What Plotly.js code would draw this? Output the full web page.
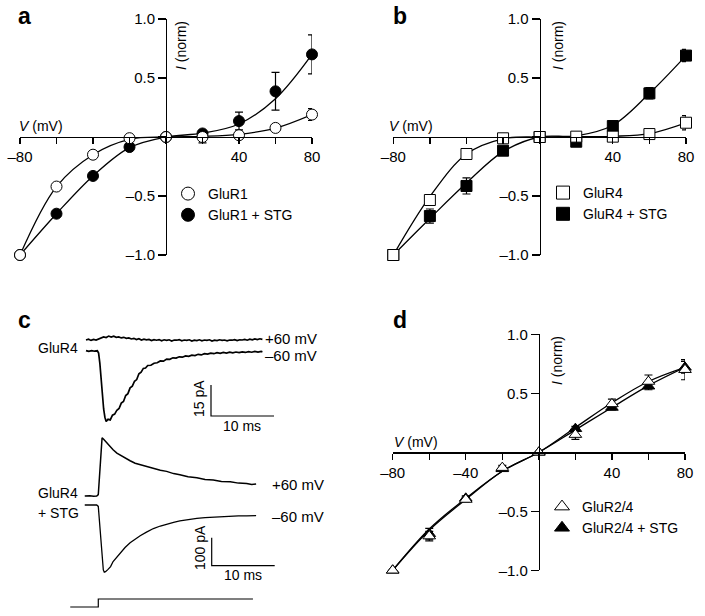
<!DOCTYPE html>
<html><head><meta charset="utf-8">
<script src="https://cdn.plot.ly/plotly-3.0.1.min.js"></script>
<style>html,body{margin:0;padding:0;background:#fff}#chart{width:705px;height:616px}</style>
</head><body><div id="chart"></div>
<script>
// ---------- data ----------
const voltages = [-80, -60, -40, -20, 0, 20, 40, 60, 80];
const xTickText = ['–80', '', '', '', '', '', '40', '', '80'];
const xTickTextD = ['–80', '', '–40', '', '', '', '40', '', '80'];
const yTickVals = [-1, -0.5, 0, 0.5, 1];
const yTickText = ['–1.0', '–0.5', '', '0.5', '1.0'];

// panel a
const gluR1 = [-1.0, -0.42, -0.15, -0.01, 0, 0.0, 0.015, 0.077, 0.19];
const gluR1Err = [0, 0.02, 0.02, 0.01, 0, 0.05, 0.03, 0.02, 0.05];
const gluR1Stg = [-1.0, -0.65, -0.33, -0.085, 0, 0.03, 0.135, 0.387, 0.70];
const gluR1StgErr = [0, 0.02, 0.02, 0.015, 0, 0.015, 0.075, 0.16, 0.165];
const gluR1Fit = [-1, -0.42, -0.15, -0.02, 0, 0.005, 0.022, 0.075, 0.19];
const gluR1StgFit = [-1, -0.65, -0.33, -0.09, 0, 0.032, 0.11, 0.325, 0.70];

// panel b
const gluR4 = [-1.0, -0.534, -0.144, -0.011, 0, 0.003, 0.003, 0.025, 0.121];
const gluR4Err = [0, 0.035, 0.02, 0.01, 0, 0.01, 0.01, 0.015, 0.06];
const gluR4Stg = [-1.0, -0.67, -0.415, -0.116, 0, -0.04, 0.093, 0.37, 0.69];
const gluR4StgErr = [0, 0.06, 0.068, 0.015, 0, 0.02, 0.02, 0.048, 0.052];
const gluR4Fit = [-1, -0.505, -0.144, -0.015, 0, 0.002, 0.006, 0.028, 0.12];
const gluR4StgFit = [-1, -0.69, -0.39, -0.124, 0, 0.01, 0.10, 0.37, 0.69];

// panel d
const gluR24 = [-1.0, -0.71, -0.40, -0.13, 0, 0.15, 0.41, 0.60, 0.70];
const gluR24Err = [0, 0.04, 0.02, 0.02, 0, 0.04, 0.04, 0.055, 0.085];
const gluR24Stg = [-1.0, -0.69, -0.39, -0.14, 0, 0.20, 0.38, 0.56, 0.72];
const gluR24StgErr = [0, 0.045, 0.02, 0.015, 0, 0.02, 0.02, 0.03, 0.05];
const gluR24Fit = [-1, -0.66, -0.40, -0.16, 0, 0.19, 0.38, 0.565, 0.72];
const gluR24StgFit = [-1, -0.65, -0.39, -0.16, 0, 0.21, 0.42, 0.60, 0.72];

// panel c: GluR4 currents (pA) vs time (ms)
const tGluR4Pos = [0, 0.4, 0.8, 1.2, 1.6, 2.0, 2.4, 2.8, 3.2, 3.6, 4.0, 4.4, 4.8, 5.2, 5.6, 6.0, 6.4, 6.8, 7.2, 7.6, 8.0, 8.4, 8.8, 9.2, 9.6, 10.0, 10.4, 10.8, 11.2, 11.6, 12.0, 12.4, 12.8, 13.2, 13.6, 14.0, 14.4, 14.8, 15.2, 15.6, 16.0, 16.4, 16.8, 17.2, 17.6, 18.0, 18.4, 18.8, 19.2, 19.6, 20.0, 20.4, 20.8, 21.2, 21.6, 22.0, 22.4, 22.8, 23.2, 23.6, 24.0, 24.4, 24.8, 25.2, 25.6, 26.0, 26.4, 26.8, 27.2, 27.6, 28.0];
const iGluR4Pos = [0.0, 0.4, -0.2, 0.3, 0.0, 0.5, 0.9, 1.5, 1.2, 1.9, 1.4, 1.8, 1.3, 1.5, 1.0, 1.3, 0.8, 1.0, 0.5, 0.8, 0.2, 0.6, 0.0, 0.4, 0.1, 0.3, -0.3, 0.2, -0.1, 0.2, -0.4, 0.1, -0.2, 0.1, -0.5, 0.0, -0.1, 0.2, -0.4, 0.0, -0.2, 0.1, -0.5, -0.1, -0.3, 0.1, -0.4, 0.0, -0.2, 0.1, -0.5, -0.1, -0.3, 0.1, -0.2, 0.0, -0.4, 0.0, -0.1, 0.2, -0.3, 0.1, 0.0, 0.3, -0.1, 0.4, 0.1, 0.5, 0.2, 0.6, 0.3];
const tGluR4Neg = [0, 0.45, 0.9, 1.35, 1.8, 2.0, 2.2, 2.4, 2.6, 2.8, 3.0, 3.2, 3.5, 3.85, 4.2, 4.55, 4.9, 5.25, 5.6, 5.95, 6.3, 6.65, 7.0, 7.35, 7.7, 8.05, 8.4, 8.75, 9.1, 9.45, 9.8, 10.3, 10.8, 11.3, 11.8, 12.3, 12.8, 13.3, 13.8, 14.3, 14.8, 15.3, 15.8, 16.3, 16.8, 17.3, 17.8, 18.3, 18.8, 19.3, 19.8, 20.3, 20.8, 21.3, 21.8, 22.3, 22.8, 23.3, 23.8, 24.3, 24.8, 25.3, 25.8, 26.3, 26.8, 27.3, 27.8, 28.0];
const iGluR4Neg = [0.2, -0.2, 0.2, -0.1, 0.1, -1, -6, -14, -22, -28, -32, -34, -33, -33.3, -31, -30.5, -28.6, -27.8, -25.2, -24.4, -21.5, -20.6, -17.8, -17.0, -14.6, -13.8, -11.0, -10.2, -8.4, -8.2, -7.0, -6.9, -5.9, -5.7, -4.8, -4.9, -3.9, -4.0, -3.3, -3.4, -2.8, -3.0, -2.4, -2.6, -2.0, -2.2, -1.6, -1.9, -1.3, -1.5, -1.0, -1.3, -0.8, -1.1, -0.7, -1.0, -0.6, -0.9, -0.5, -0.8, -0.4, -0.7, -0.3, -0.6, -0.2, -0.5, -0.2, -0.4];
// panel c: GluR4 + STG currents (pA)
const tStgPos = [-0.2, 0.6, 1.2, 1.7, 1.95, 2.1, 2.25, 2.4, 2.55, 2.8, 3.3, 3.8, 4.3, 4.9, 5.4, 6.2, 7.0, 7.8, 8.6, 9.6, 10.7, 11.8, 12.8, 13.9, 14.9, 16.2, 17.6, 18.9, 20.2, 21.5, 22.9, 24.2, 25.5, 26.3, 27.0];
const iStgPos = [0, 1, -1, 0, 5, 60, 130, 185, 208, 203, 190, 178, 165, 153, 146, 136, 126, 117, 112, 104, 99, 92, 88, 80, 76, 69, 65, 59, 57, 52, 51, 46, 45, 41, 43];
const tStgNeg = [-0.2, 0.6, 1.2, 1.7, 1.95, 2.15, 2.35, 2.55, 2.75, 2.9, 3.1, 3.5, 3.9, 4.3, 5.4, 6.2, 7.0, 7.8, 8.6, 9.6, 10.7, 11.8, 12.8, 13.9, 14.9, 16.2, 17.6, 18.9, 20.2, 21.5, 22.9, 24.2, 25.5, 27.0];
const iStgNeg = [0, 0, 0, 0, -5, -60, -130, -195, -232, -240, -238, -230, -220, -202, -172, -152, -135, -121, -110, -97, -84, -75, -68, -62, -57, -52, -47.5, -45, -43, -41.5, -40, -39, -38.5, -38];
// voltage command step
const tCommand = [-2.5, 1.95, 1.95, 26.5];
const vCommand = [0, 0, 1, 1];
// scale bars
const scaleMs = 10, scalePA1 = 15, scalePA2 = 100;

// ---------- layout helpers ----------
const W = 705, H = 616;
const fx = p => p / W, fy = p => 1 - p / H;
const FONT = 'Liberation Sans, Arial, sans-serif';
const BLACK = '#000';

function ivAxes(x0, x1, yTop, yBot, tickText) {
  const xa = {domain: [fx(x0), fx(x1)], range: [-80, 80], anchor: 'free', position: fy((yTop + yBot) / 2),
    showline: true, linecolor: BLACK, linewidth: 1.3, ticks: 'outside', ticklen: 6, tickwidth: 1.3, tickcolor: BLACK,
    tickvals: voltages, ticktext: tickText, tickfont: {family: FONT, size: 15, color: BLACK},
    showgrid: false, zeroline: false, fixedrange: true};
  const ya = {domain: [fy(yBot), fy(yTop)], range: [-1, 1], anchor: 'free', position: fx((x0 + x1) / 2),
    showline: true, linecolor: BLACK, linewidth: 1.3, ticks: 'outside', ticklen: 8, tickwidth: 1.3, tickcolor: BLACK,
    tickvals: yTickVals, ticktext: yTickText, tickfont: {family: FONT, size: 15, color: BLACK},
    showgrid: false, zeroline: false, fixedrange: true};
  return [xa, ya];
}

function fitTrace(y, xa, ya) {
  return {x: voltages, y: y, xaxis: xa, yaxis: ya, mode: 'lines', cliponaxis: false,
    line: {shape: 'spline', smoothing: 1, color: BLACK, width: 1.3}, showlegend: false, hoverinfo: 'skip'};
}
function markerTrace(y, err, symbol, open, xa, ya) {
  return {x: voltages, y: y, xaxis: xa, yaxis: ya, mode: 'markers', cliponaxis: false, showlegend: false,
    error_y: {type: 'data', array: err, visible: true, color: BLACK, thickness: 1.2, width: 4},
    marker: {symbol: symbol, size: 11, color: open ? '#fff' : BLACK, line: {color: BLACK, width: 1}}};
}
function legendTrace(name, symbol, open, xa, ya, leg, rank) {
  return {x: [null], y: [null], xaxis: xa, yaxis: ya, mode: 'markers', name: name, legend: leg, legendrank: rank,
    showlegend: true, marker: {symbol: symbol, size: 13, color: open ? '#fff' : BLACK, line: {color: BLACK, width: 1}}};
}

const traces = [
  // panel a
  fitTrace(gluR1StgFit, 'x', 'y'), fitTrace(gluR1Fit, 'x', 'y'),
  markerTrace(gluR1Stg, gluR1StgErr, 'circle', false, 'x', 'y'),
  markerTrace(gluR1, gluR1Err, 'circle', true, 'x', 'y'),
  legendTrace('GluR1', 'circle', true, 'x', 'y', 'legend', 1),
  legendTrace('GluR1 + STG', 'circle', false, 'x', 'y', 'legend', 2),
  // panel b
  fitTrace(gluR4StgFit, 'x2', 'y2'), fitTrace(gluR4Fit, 'x2', 'y2'),
  markerTrace(gluR4Stg, gluR4StgErr, 'square', false, 'x2', 'y2'),
  markerTrace(gluR4, gluR4Err, 'square', true, 'x2', 'y2'),
  legendTrace('GluR4', 'square', true, 'x2', 'y2', 'legend2', 1),
  legendTrace('GluR4 + STG', 'square', false, 'x2', 'y2', 'legend2', 2),
  // panel d
  fitTrace(gluR24StgFit, 'x3', 'y3'), fitTrace(gluR24Fit, 'x3', 'y3'),
  markerTrace(gluR24Stg, gluR24StgErr, 'triangle-up', false, 'x3', 'y3'),
  markerTrace(gluR24, gluR24Err, 'triangle-up', true, 'x3', 'y3'),
  legendTrace('GluR2/4', 'triangle-up', true, 'x3', 'y3', 'legend3', 1),
  legendTrace('GluR2/4 + STG', 'triangle-up', false, 'x3', 'y3', 'legend3', 2),
];

// panel c geometry (pixels): time origin, px per ms, baselines and px per pA
const cT0 = 86, cPxPerMs = 6.3;
const upBase = 351, upPxPerPA = 2.07, upPosBase = 340;
const loBase = 505, loPxPerPA = 0.28, loPosBase = 496;
const upOffset = (upBase - upPosBase) / upPxPerPA;
const loOffset = (loBase - loPosBase) / loPxPerPA;
function cLine(t, v, ya, off, w) {
  return {x: t, y: v.map(a => a + off), xaxis: 'x4', yaxis: ya, mode: 'lines', cliponaxis: false,
    line: {color: BLACK, width: w}, showlegend: false, hoverinfo: 'skip'};
}
traces.push(cLine(tGluR4Pos, iGluR4Pos, 'y4', upOffset, 1.7));
traces.push(cLine(tGluR4Neg, iGluR4Neg, 'y4', 0, 1.7));
traces.push(cLine(tStgPos, iStgPos, 'y5', loOffset, 1.5));
traces.push(cLine(tStgNeg, iStgNeg, 'y5', 0, 1.3));
traces.push(cLine(tCommand, vCommand, 'y6', 0, 1.2));
// scale bars
const sb1t = (211 - cT0) / cPxPerMs, sb1i = (upBase - 416) / upPxPerPA;
traces.push(cLine([sb1t, sb1t, sb1t + scaleMs], [sb1i + scalePA1, sb1i, sb1i], 'y4', 0, 1.2));
const sb2t = (211.7 - cT0) / cPxPerMs, sb2i = (loBase - 565.7) / loPxPerPA;
traces.push(cLine([sb2t, sb2t, sb2t + scaleMs], [sb2i + scalePA2, sb2i, sb2i], 'y5', 0, 1.2));

const [xa1, ya1] = ivAxes(20, 312, 19, 255, xTickText);
const [xa2, ya2] = ivAxes(393.3, 686, 19, 255, xTickText);
const [xa3, ya3] = ivAxes(392.7, 685, 334.3, 570.3, xTickTextD);

const cx0 = 67.1, cx1 = 325.4;
const xa4 = {domain: [fx(cx0), fx(cx1)], range: [(cx0 - cT0) / cPxPerMs, (cx1 - cT0) / cPxPerMs], visible: false, anchor: 'y4', fixedrange: true};
const ya4 = {domain: [fy(435), fy(325)], range: [(upBase - 435) / upPxPerPA, (upBase - 325) / upPxPerPA], visible: false, anchor: 'x4', fixedrange: true};
const ya5 = {domain: [fy(580), fy(430)], range: [(loBase - 580) / loPxPerPA, (loBase - 430) / loPxPerPA], visible: false, anchor: 'x4', fixedrange: true};
const ya6 = {domain: [fy(615), fy(591)], range: [-1, 2], visible: false, anchor: 'x4', fixedrange: true};

function ann(text, x, y, opts) {
  return Object.assign({text: text, x: fx(x), y: fy(y), xref: 'paper', yref: 'paper', showarrow: false,
    xanchor: 'left', yanchor: 'middle', font: {family: FONT, size: 14, color: BLACK}}, opts || {});
}
const bold = {font: {family: FONT, size: 23, color: BLACK, weight: 'bold'}};
const f15 = {font: {family: FONT, size: 15, color: BLACK}};
const annotations = [
  ann('<b>a</b>', 16, 16, bold), ann('<b>b</b>', 391, 16, bold),
  ann('<b>c</b>', 16, 320, bold), ann('<b>d</b>', 391, 320, bold),
  ann('<i>V</i> (mV)', 17, 126), ann('<i>I</i> (norm)', 181, 46, {textangle: -90, xanchor: 'center'}),
  ann('<i>V</i> (mV)', 387, 126), ann('<i>I</i> (norm)', 558, 46, {textangle: -90, xanchor: 'center'}),
  ann('<i>V</i> (mV)', 392, 442), ann('<i>I</i> (norm)', 557, 361, {textangle: -90, xanchor: 'center'}),
  ann('GluR4', 36, 348), ann('+60 mV', 263, 338, f15), ann('–60 mV', 263, 355, f15),
  ann('GluR4', 36, 493), ann('+ STG', 36, 513),
  ann('+60 mV', 270, 484, f15), ann('–60 mV', 270, 516, f15),
  ann('15 pA', 199, 399, {textangle: -90, xanchor: 'center'}), ann('10 ms', 242, 426, {xanchor: 'center'}),
  ann('100 pA', 200, 548, {textangle: -90, xanchor: 'center'}), ann('10 ms', 243, 575, {xanchor: 'center'}),
];

function leg(x, y) {
  return {x: fx(x), y: fy(y), xanchor: 'left', yanchor: 'top', bgcolor: 'rgba(0,0,0,0)', borderwidth: 0,
    font: {family: FONT, size: 14, color: BLACK}, itemwidth: 30, traceorder: 'normal'};
}

const layout = {
  width: W, height: H, margin: {l: 0, r: 0, t: 0, b: 0},
  paper_bgcolor: '#fff', plot_bgcolor: 'rgba(0,0,0,0)', showlegend: true, hovermode: false,
  xaxis: xa1, yaxis: ya1, xaxis2: xa2, yaxis2: ya2, xaxis3: xa3, yaxis3: ya3,
  xaxis4: xa4, yaxis4: ya4, yaxis5: ya5, yaxis6: ya6,
  legend: leg(168, 178), legend2: leg(543, 177), legend3: leg(542, 491),
  annotations: annotations,
};
Plotly.newPlot('chart', traces, layout, {staticPlot: true, displayModeBar: false});
</script></body></html>
